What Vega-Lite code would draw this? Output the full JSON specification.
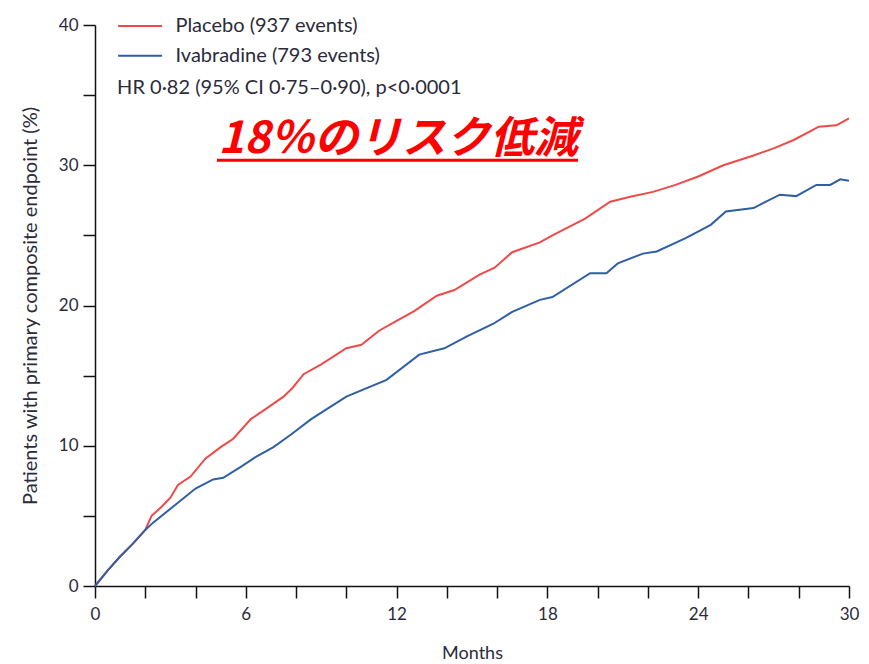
{
  "$schema": "https://vega.github.io/schema/vega-lite/v6.json",
  "autosize": {"type": "none"},
  "padding": {"left": 95, "top": 25, "right": 20, "bottom": 78},
  "width": 754,
  "height": 561,
  "config": {
    "view": {"stroke": null},
    "font": "Lato",
    "axis": {"grid": false, "domainColor": "#111", "domainWidth": 1.5, "tickColor": "#111", "tickWidth": 1.5, "tickSize": 12, "labelColor": "#2b2b3a", "titleColor": "#2b2b3a", "labelFont": "Lato", "titleFont": "Lato", "labelFontSize": 17, "titleFontSize": 17, "titleFontWeight": "normal"}
  },
  "datasets": {
    "curves": [
      {"m": 0, "v": 0, "s": "Placebo (937 events)"},
      {"m": 0.5, "v": 1.1, "s": "Placebo (937 events)"},
      {"m": 1.0, "v": 2.1, "s": "Placebo (937 events)"},
      {"m": 1.5, "v": 3.0, "s": "Placebo (937 events)"},
      {"m": 2.0, "v": 4.0, "s": "Placebo (937 events)"},
      {"m": 2.25, "v": 5.0, "s": "Placebo (937 events)"},
      {"m": 2.65, "v": 5.65, "s": "Placebo (937 events)"},
      {"m": 3.0, "v": 6.3, "s": "Placebo (937 events)"},
      {"m": 3.3, "v": 7.2, "s": "Placebo (937 events)"},
      {"m": 3.8, "v": 7.8, "s": "Placebo (937 events)"},
      {"m": 4.4, "v": 9.1, "s": "Placebo (937 events)"},
      {"m": 5.0, "v": 9.9, "s": "Placebo (937 events)"},
      {"m": 5.5, "v": 10.5, "s": "Placebo (937 events)"},
      {"m": 6.2, "v": 11.9, "s": "Placebo (937 events)"},
      {"m": 6.7, "v": 12.5, "s": "Placebo (937 events)"},
      {"m": 7.5, "v": 13.5, "s": "Placebo (937 events)"},
      {"m": 7.85, "v": 14.1, "s": "Placebo (937 events)"},
      {"m": 8.3, "v": 15.1, "s": "Placebo (937 events)"},
      {"m": 9.0, "v": 15.8, "s": "Placebo (937 events)"},
      {"m": 10.0, "v": 16.95, "s": "Placebo (937 events)"},
      {"m": 10.6, "v": 17.2, "s": "Placebo (937 events)"},
      {"m": 11.3, "v": 18.2, "s": "Placebo (937 events)"},
      {"m": 12.0, "v": 18.9, "s": "Placebo (937 events)"},
      {"m": 12.7, "v": 19.6, "s": "Placebo (937 events)"},
      {"m": 13.6, "v": 20.7, "s": "Placebo (937 events)"},
      {"m": 14.3, "v": 21.1, "s": "Placebo (937 events)"},
      {"m": 15.3, "v": 22.2, "s": "Placebo (937 events)"},
      {"m": 15.9, "v": 22.7, "s": "Placebo (937 events)"},
      {"m": 16.6, "v": 23.8, "s": "Placebo (937 events)"},
      {"m": 17.7, "v": 24.5, "s": "Placebo (937 events)"},
      {"m": 18.2, "v": 25.0, "s": "Placebo (937 events)"},
      {"m": 19.5, "v": 26.2, "s": "Placebo (937 events)"},
      {"m": 20.5, "v": 27.4, "s": "Placebo (937 events)"},
      {"m": 21.3, "v": 27.75, "s": "Placebo (937 events)"},
      {"m": 22.2, "v": 28.1, "s": "Placebo (937 events)"},
      {"m": 23.1, "v": 28.6, "s": "Placebo (937 events)"},
      {"m": 24.0, "v": 29.2, "s": "Placebo (937 events)"},
      {"m": 25.0, "v": 30.0, "s": "Placebo (937 events)"},
      {"m": 26.2, "v": 30.7, "s": "Placebo (937 events)"},
      {"m": 27.0, "v": 31.2, "s": "Placebo (937 events)"},
      {"m": 27.8, "v": 31.8, "s": "Placebo (937 events)"},
      {"m": 28.8, "v": 32.75, "s": "Placebo (937 events)"},
      {"m": 29.5, "v": 32.85, "s": "Placebo (937 events)"},
      {"m": 30.0, "v": 33.35, "s": "Placebo (937 events)"},
      {"m": 0, "v": 0, "s": "Ivabradine (793 events)"},
      {"m": 0.5, "v": 1.1, "s": "Ivabradine (793 events)"},
      {"m": 1.0, "v": 2.1, "s": "Ivabradine (793 events)"},
      {"m": 1.5, "v": 3.0, "s": "Ivabradine (793 events)"},
      {"m": 2.0, "v": 4.0, "s": "Ivabradine (793 events)"},
      {"m": 2.3, "v": 4.5, "s": "Ivabradine (793 events)"},
      {"m": 3.1, "v": 5.65, "s": "Ivabradine (793 events)"},
      {"m": 4.0, "v": 6.95, "s": "Ivabradine (793 events)"},
      {"m": 4.7, "v": 7.6, "s": "Ivabradine (793 events)"},
      {"m": 5.1, "v": 7.72, "s": "Ivabradine (793 events)"},
      {"m": 5.8, "v": 8.5, "s": "Ivabradine (793 events)"},
      {"m": 6.4, "v": 9.2, "s": "Ivabradine (793 events)"},
      {"m": 7.1, "v": 9.9, "s": "Ivabradine (793 events)"},
      {"m": 7.8, "v": 10.8, "s": "Ivabradine (793 events)"},
      {"m": 8.6, "v": 11.9, "s": "Ivabradine (793 events)"},
      {"m": 10.0, "v": 13.5, "s": "Ivabradine (793 events)"},
      {"m": 11.6, "v": 14.7, "s": "Ivabradine (793 events)"},
      {"m": 12.9, "v": 16.5, "s": "Ivabradine (793 events)"},
      {"m": 13.9, "v": 16.95, "s": "Ivabradine (793 events)"},
      {"m": 14.8, "v": 17.8, "s": "Ivabradine (793 events)"},
      {"m": 15.85, "v": 18.7, "s": "Ivabradine (793 events)"},
      {"m": 16.6, "v": 19.55, "s": "Ivabradine (793 events)"},
      {"m": 17.7, "v": 20.4, "s": "Ivabradine (793 events)"},
      {"m": 18.2, "v": 20.6, "s": "Ivabradine (793 events)"},
      {"m": 19.7, "v": 22.3, "s": "Ivabradine (793 events)"},
      {"m": 20.35, "v": 22.3, "s": "Ivabradine (793 events)"},
      {"m": 20.8, "v": 23.0, "s": "Ivabradine (793 events)"},
      {"m": 21.8, "v": 23.7, "s": "Ivabradine (793 events)"},
      {"m": 22.35, "v": 23.85, "s": "Ivabradine (793 events)"},
      {"m": 23.5, "v": 24.8, "s": "Ivabradine (793 events)"},
      {"m": 24.5, "v": 25.75, "s": "Ivabradine (793 events)"},
      {"m": 25.1, "v": 26.7, "s": "Ivabradine (793 events)"},
      {"m": 26.2, "v": 26.95, "s": "Ivabradine (793 events)"},
      {"m": 27.25, "v": 27.9, "s": "Ivabradine (793 events)"},
      {"m": 27.9, "v": 27.8, "s": "Ivabradine (793 events)"},
      {"m": 28.7, "v": 28.6, "s": "Ivabradine (793 events)"},
      {"m": 29.25, "v": 28.6, "s": "Ivabradine (793 events)"},
      {"m": 29.65, "v": 29.0, "s": "Ivabradine (793 events)"},
      {"m": 30.0, "v": 28.9, "s": "Ivabradine (793 events)"}
    ],
    "legend": [
      {"x1": 0.92, "x2": 2.67, "tx": 3.2, "y": 39.93, "s": "Placebo (937 events)"},
      {"x1": 0.92, "x2": 2.67, "tx": 3.2, "y": 37.8, "s": "Ivabradine (793 events)"}
    ],
    "notes": [
      {"x": 0.88, "y": 35.5, "t": "HR 0·82 (95% CI 0·75–0·90), p<0·0001"}
    ],
    "headline": [
      {"x": 12.06, "y": 31.8, "x1": 4.85, "x2": 19.22, "yu": 30.35, "t": "18％のリスク低減"}
    ]
  },
  "layer": [
    {
      "data": {"name": "curves"},
      "mark": {"type": "line", "strokeWidth": 2},
      "encoding": {
        "x": {"field": "m", "type": "quantitative", "scale": {"domain": [0, 30], "nice": false},
          "axis": {"title": "Months", "titleFontSize": 18, "values": [0,1,2,3,4,5,6,7,8,9,10,11,12,13,14,15,16,17,18,19,20,21,22,23,24,25,26,27,28,29,30], "labelExpr": "datum.value % 6 === 0 ? datum.label : ''", "labelOverlap": false, "labelPadding": 8, "titlePadding": 22, "labelFlush": false}},
        "y": {"field": "v", "type": "quantitative", "scale": {"domain": [0, 40], "nice": false},
          "axis": {"title": "Patients with primary composite endpoint (%)", "titleFontSize": 20, "values": [0,5,10,15,20,25,30,35,40], "labelExpr": "datum.value % 10 === 0 ? datum.label : ''", "labelOverlap": false, "labelPadding": 5, "titlePadding": 18, "labelFlush": false}},
        "color": {"field": "s", "type": "nominal", "scale": {"domain": ["Placebo (937 events)", "Ivabradine (793 events)"], "range": ["#ee4a4a", "#2f5fa5"]}, "legend": null},
        "detail": {"field": "s"}
      }
    },
    {
      "data": {"name": "legend"},
      "mark": {"type": "rule", "strokeWidth": 2},
      "encoding": {
        "x": {"field": "x1", "type": "quantitative"},
        "x2": {"field": "x2"},
        "y": {"field": "y", "type": "quantitative"},
        "color": {"field": "s", "type": "nominal", "legend": null}
      }
    },
    {
      "data": {"name": "legend"},
      "mark": {"type": "text", "align": "left", "baseline": "middle", "font": "Lato", "fontSize": 20, "color": "#2b2b3a"},
      "encoding": {
        "x": {"field": "tx", "type": "quantitative"},
        "y": {"field": "y", "type": "quantitative"},
        "text": {"field": "s"}
      }
    },
    {
      "data": {"name": "notes"},
      "mark": {"type": "text", "align": "left", "baseline": "middle", "font": "Lato", "fontSize": 20, "color": "#2b2b3a"},
      "encoding": {
        "x": {"field": "x", "type": "quantitative"},
        "y": {"field": "y", "type": "quantitative"},
        "text": {"field": "t"}
      }
    },
    {
      "data": {"name": "headline"},
      "mark": {"type": "text", "align": "center", "baseline": "middle", "font": "Noto Sans CJK JP", "fontSize": 44, "fontWeight": "bold", "fontStyle": "italic", "color": "#ff0000"},
      "encoding": {
        "x": {"field": "x", "type": "quantitative"},
        "y": {"field": "y", "type": "quantitative"},
        "text": {"field": "t"}
      }
    },
    {
      "data": {"name": "headline"},
      "mark": {"type": "rule", "strokeWidth": 3, "color": "#ff0000"},
      "encoding": {
        "x": {"field": "x1", "type": "quantitative"},
        "x2": {"field": "x2"},
        "y": {"field": "yu", "type": "quantitative"}
      }
    }
  ]
}
